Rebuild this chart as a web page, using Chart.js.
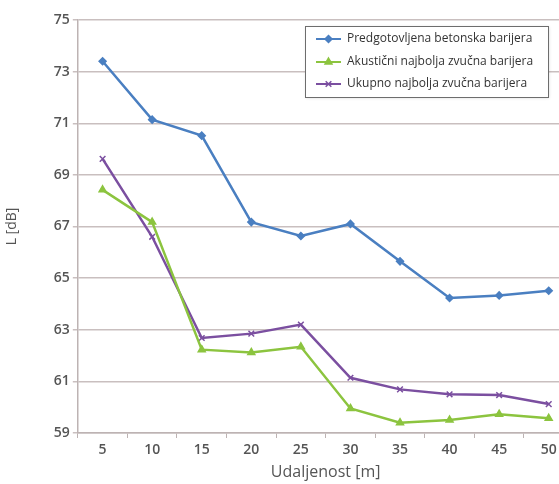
<!DOCTYPE html>
<html>
<head>
<meta charset="utf-8">
<script src="https://cdn.jsdelivr.net/npm/chart.js@4"></script>
<style>
html,body{margin:0;padding:0;background:#fff;overflow:hidden;}
#wrap{width:559px;height:484px;overflow:hidden;position:relative;}
#box{width:579px;height:484px;position:absolute;left:0;top:0;}
</style>
</head>
<body>
<div id="wrap"><div id="box"><canvas id="c"></canvas></div></div>
<script>
const categories = ['5','10','15','20','25','30','35','40','45','50'];
const seriesNames = ['Predgotovljena betonska barijera','Akustični najbolja zvučna barijera','Ukupno najbolja zvučna barijera'];
const predgotovljena = [73.40, 71.14, 70.52, 67.17, 66.63, 67.10, 65.65, 64.23, 64.33, 64.51];
const akusticni = [68.42, 67.17, 62.23, 62.12, 62.34, 59.95, 59.40, 59.50, 59.73, 59.57];
const ukupno = [69.62, 66.60, 62.68, 62.85, 63.20, 61.14, 60.69, 60.50, 60.47, 60.12];
const yTicks = [59, 61, 63, 65, 67, 69, 71, 73, 75];

const colors = ['#4a7fc1', '#8cc43f', '#7b4fa0'];
const styles = ['rectRot', 'triangle', 'crossRot'];
const sizes = [3.5, 4, 4];
const FONT = "'Open Sans', sans-serif";

const legendPlugin = {
  id: 'boxLegend',
  afterDatasetsDraw(chart) {
    const ctx = chart.ctx;
    const x = 305, y = 26, w = 243, h = 71;
    ctx.save();
    ctx.shadowColor = 'rgba(0,0,0,0.15)';
    ctx.shadowBlur = 3;
    ctx.shadowOffsetX = 1; ctx.shadowOffsetY = 1;
    ctx.fillStyle = '#ffffff';
    ctx.fillRect(x, y, w, h);
    ctx.shadowColor = 'transparent';
    ctx.strokeStyle = '#6d6d6d';
    ctx.lineWidth = 1;
    ctx.strokeRect(x + 0.5, y + 0.5, w, h);
    const rows = [39, 62, 84];
    chart.data.datasets.forEach((ds, i) => {
      const ry = rows[i];
      ctx.strokeStyle = ds.borderColor;
      ctx.fillStyle = ds.borderColor;
      ctx.lineWidth = 2;
      ctx.beginPath(); ctx.moveTo(316, ry); ctx.lineTo(341, ry); ctx.stroke();
      ctx.lineWidth = 1.5;
      Chart.helpers.drawPoint(ctx, {pointStyle: ds.pointStyle, radius: ds.pointRadius, borderWidth: 1.5, rotation: 0}, 328.5, ry);
      ctx.fillStyle = '#333333';
      ctx.font = "500 12px " + FONT;
      ctx.textBaseline = 'middle';
      ctx.textAlign = 'left';
      ctx.fillText(ds.label, 347, ry);
    });
    ctx.restore();
  }
};

new Chart(document.getElementById('c'), {
  type: 'line',
  data: {
    labels: categories,
    datasets: [predgotovljena, akusticni, ukupno].map((d, i) => ({
      label: seriesNames[i],
      data: d,
      borderColor: colors[i],
      backgroundColor: colors[i],
      pointBackgroundColor: colors[i],
      pointBorderColor: colors[i],
      borderWidth: 2.5,
      pointStyle: styles[i],
      pointRadius: sizes[i],
      pointBorderWidth: 1.5,
      tension: 0,
      fill: false
    }))
  },
  options: {
    responsive: true,
    maintainAspectRatio: false,
    animation: false,
    layout: {padding: {top: 20, left: 4, right: 0, bottom: 2}},
    plugins: {legend: {display: false}, tooltip: {enabled: false}},
    scales: {
      x: {
        type: 'category',
        offset: true,
        grid: {display: true, drawOnChartArea: false, drawTicks: true, tickLength: 5, offset: true, color: '#bdb3b3', lineWidth: 1},
        border: {display: true, color: '#bdb3b3', width: 1.5},
        ticks: {color: '#555555', font: {family: FONT, size: 14, weight: '600'}, padding: 4, maxRotation: 0, autoSkip: false},
        title: {display: true, text: 'Udaljenost [m]', color: '#555555', font: {family: FONT, size: 16, weight: '500'}, padding: {top: 0, bottom: 0}}
      },
      y: {
        type: 'linear',
        min: 59, max: 75,
        afterBuildTicks: (scale) => { scale.ticks = yTicks.map(v => ({value: v})); },
        grid: {color: '#c9bfbf', lineWidth: 1.5, tickLength: 5, drawTicks: true},
        border: {display: true, color: '#bdb3b3', width: 1.5},
        ticks: {color: '#555555', font: {family: FONT, size: 14, weight: '600'}, padding: 3},
        title: {display: true, text: 'L [dB]', color: '#555555', font: {family: FONT, size: 14, weight: '500'}, padding: {top: 0, bottom: 30}}
      }
    }
  },
  plugins: [legendPlugin]
});
</script>
</body>
</html>
